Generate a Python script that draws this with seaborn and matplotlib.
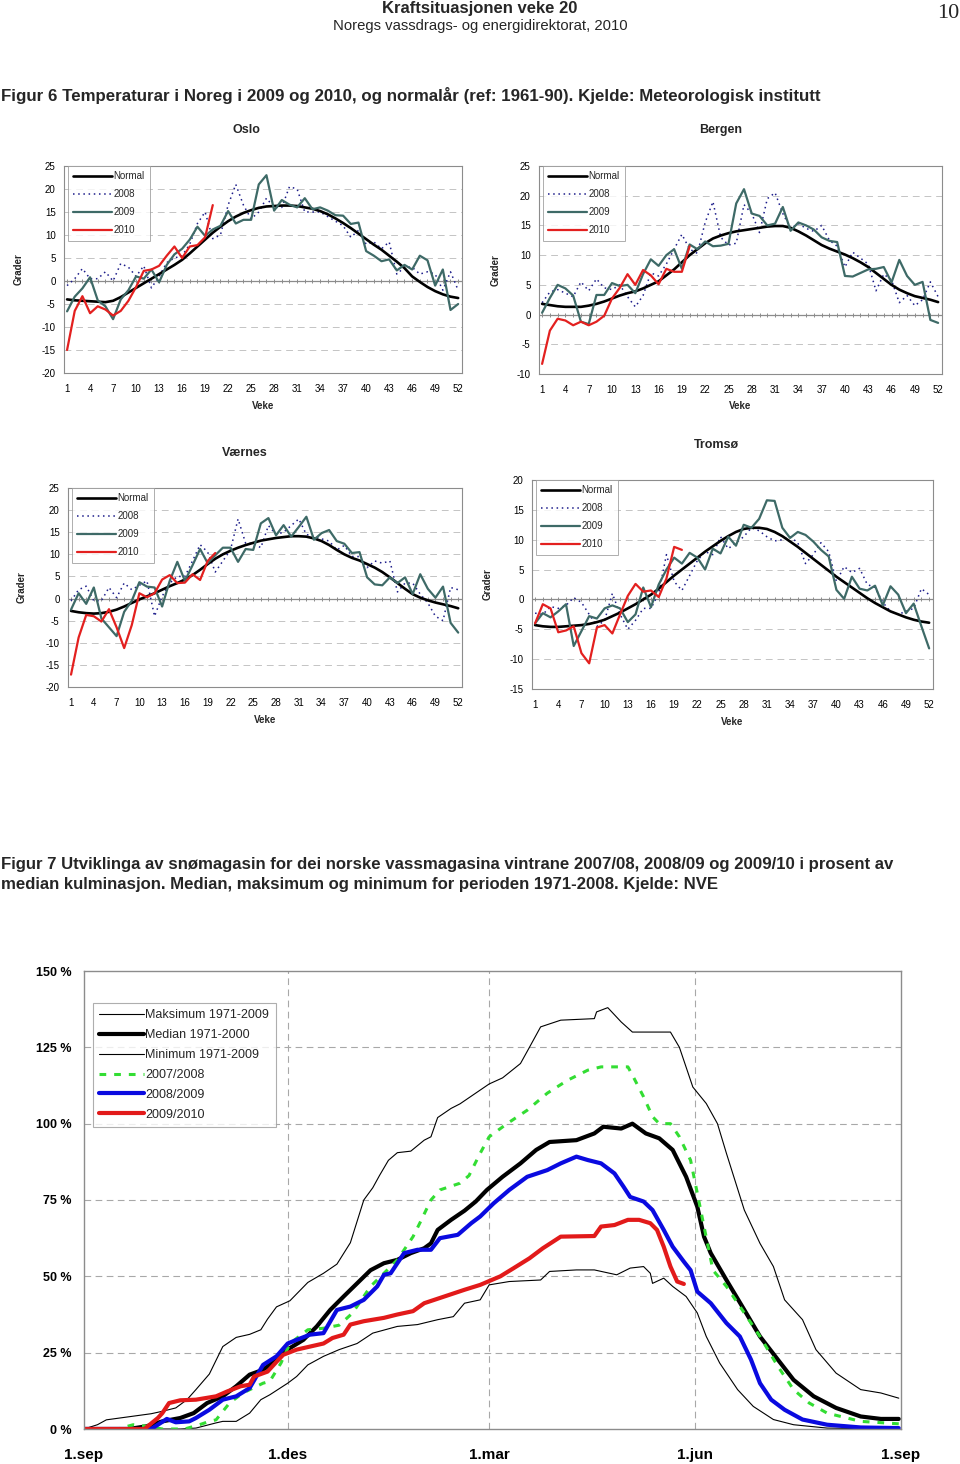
import matplotlib
matplotlib.use("Agg")
import matplotlib.pyplot as plt
import seaborn as sns

sns.set_theme(style="white")
plt.rcParams['font.family'] = ['Liberation Sans', 'DejaVu Sans']

# ---------------- temperature data (weekly, degrees C) ----------------
weeks = list(range(1, 53))
weeks_2010 = list(range(1, 21))
week_ticks = list(range(1, 53, 3))

oslo_normal = [-4.0, -4.2, -4.3, -4.4, -4.5, -4.6, -4.3, -3.5, -2.5, -1.5,
               -0.5, 0.5, 1.5, 2.5, 3.5, 4.6, 6.0, 7.5, 9.0, 10.5,
               11.8, 13.0, 14.0, 14.8, 15.4, 15.9, 16.2, 16.3, 16.4, 16.4,
               16.3, 16.0, 15.7, 15.2, 14.5, 13.6, 12.6, 11.5, 10.3, 9.1,
               7.9, 6.8, 5.5, 4.2, 2.8, 1.0, -0.2, -1.3, -2.2, -2.9,
               -3.4, -3.7]
oslo_2008 = [-1.0, 0.5, 2.7, 0.5, 0.5, 2.0, 0.0, 3.8, 3.0, 1.0,
             3.3, -1.5, 1.0, 4.0, 5.0, 5.5, 8.0, 12.5, 15.0, 9.2,
             10.0, 16.5, 21.0, 16.5, 13.5, 15.0, 18.0, 16.0, 16.0, 20.5,
             20.0, 15.0, 15.0, 15.0, 14.0, 13.0, 12.0, 9.5, 11.0, 8.0,
             8.5, 7.0, 8.5, 1.5, 3.0, 3.0, 1.5, 2.0, 1.5, -2.0,
             2.0, -2.0]
oslo_2009 = [-6.6, -3.4, -1.6, 0.8, -4.2, -5.5, -8.3, -4.0, -2.0, 1.0,
             0.5, 2.5, -0.3, 3.5, 5.8, 7.0, 9.0, 11.8, 9.8, 11.2,
             12.0, 15.2, 12.5, 13.3, 13.3, 21.0, 23.0, 15.3, 17.6, 16.6,
             16.0, 18.0, 15.6, 16.0, 15.3, 14.3, 14.2, 12.4, 12.7, 6.5,
             5.5, 4.3, 4.7, 2.3, 3.5, 2.5, 5.5, 4.5, -1.0, 2.5,
             -6.3, -5.0]
oslo_2010 = [-15.0, -6.5, -3.3, -7.0, -5.5, -6.2, -7.5, -6.5, -4.3, -1.3,
             2.2, 2.5, 3.3, 5.5, 7.5, 5.0, 7.5, 7.8, 9.5, 16.5]

bergen_normal = [1.8, 1.6, 1.4, 1.3, 1.3, 1.3, 1.5, 1.8, 2.2, 2.7,
                 3.2, 3.6, 3.9, 4.4, 5.0, 5.6, 6.6, 7.6, 8.8, 10.0,
                 11.0, 12.0, 12.8, 13.3, 13.7, 14.0, 14.2, 14.4, 14.6, 14.8,
                 14.9, 14.9, 14.6, 14.0, 13.3, 12.5, 11.7, 11.1, 10.6, 10.1,
                 9.5, 8.8, 8.0, 7.0, 6.0, 5.0, 4.2, 3.6, 3.1, 2.8,
                 2.5, 2.1]
bergen_2008 = [2.0, 3.8, 4.2, 3.6, 3.0, 5.5, 4.0, 6.0, 4.5, 4.2,
               5.0, 3.0, 1.3, 3.2, 7.0, 6.5, 8.5, 11.0, 13.5, 11.0,
               10.3, 15.5, 19.0, 13.0, 11.7, 12.0, 18.5, 17.0, 13.8, 19.5,
               20.5, 17.0, 14.5, 15.3, 14.5, 14.0, 15.0, 12.5, 11.5, 8.0,
               10.5, 9.5, 8.5, 4.0, 6.8, 5.8, 2.0, 3.2, 1.5, 2.5,
               5.5, 3.0]
bergen_2009 = [0.3, 2.8, 5.0, 4.4, 3.2, -1.2, -1.6, 3.3, 3.3, 5.3,
               4.8, 5.0, 3.6, 6.8, 9.3, 8.2, 10.0, 11.0, 7.7, 11.8,
               11.0, 12.3, 11.5, 11.6, 11.9, 18.7, 21.1, 17.0, 16.6, 15.0,
               15.3, 18.1, 14.1, 15.5, 15.0, 14.3, 13.0, 12.4, 12.2, 6.5,
               6.4, 7.0, 7.6, 7.7, 8.0, 5.4, 9.2, 6.5, 5.0, 5.5,
               -0.9, -1.4]
bergen_2010 = [-8.3, -2.7, -0.7, -1.0, -1.8, -1.2, -1.8, -1.2, -0.2, 2.7,
               4.5, 6.8, 5.0, 7.5, 6.6, 5.1, 7.7, 7.2, 7.2, 11.5]

vaernes_normal = [-2.8, -3.1, -3.3, -3.4, -3.3, -3.0, -2.5, -1.8, -1.0, -0.2,
                  0.5, 1.2, 2.0, 2.8, 3.5, 4.3, 5.3, 6.5, 7.8, 9.0,
                  10.0, 10.8, 11.5, 12.1, 12.6, 13.1, 13.4, 13.7, 13.9, 14.1,
                  14.1, 14.0, 13.6, 13.0, 12.1, 11.0, 10.0, 9.2, 8.6, 7.8,
                  7.0, 6.0, 4.8, 3.5, 2.2, 1.0, 0.2, -0.4, -0.9, -1.3,
                  -1.7, -2.2]
vaernes_2008 = [-0.5, 2.0, 2.8, -0.5, -0.5, 2.5, 0.2, 3.5, 2.0, 3.0,
                4.0, -4.0, 0.5, 3.5, 5.0, 5.0, 8.5, 12.2, 10.5, 6.0,
                8.5, 11.0, 18.0, 12.5, 12.5, 11.5, 16.5, 14.5, 15.0, 16.5,
                18.0, 14.5, 14.0, 13.5, 13.0, 11.0, 12.0, 9.5, 9.5, 7.0,
                8.5, 8.0, 8.5, 1.5, 3.5, 3.5, 1.0, -1.0, -4.0, -5.0,
                2.5, 2.0]
vaernes_2009 = [-2.5, 1.2, -1.2, 2.5, -4.5, -6.5, -8.5, -3.0, -0.5, 3.7,
                2.7, 2.5, -1.8, 4.0, 8.3, 4.0, 7.5, 11.2, 8.0, 9.8,
                11.5, 11.5, 8.3, 11.2, 11.0, 17.0, 18.2, 14.3, 16.6, 14.0,
                16.2, 18.5, 13.3, 14.8, 15.5, 13.0, 12.4, 10.3, 10.5, 4.8,
                3.2, 3.0, 4.8, 3.5, 4.8, 1.0, 5.5, 2.2, 0.2, 2.7,
                -5.5, -7.7]
vaernes_2010 = [-17.2, -8.8, -3.7, -4.0, -5.2, -2.4, -6.5, -11.2, -6.0, 1.2,
                0.3, 1.2, 4.3, 5.3, 3.5, 3.6, 5.5, 4.2, 8.5, 10.3]

tromso_normal = [-4.3, -4.5, -4.6, -4.6, -4.5, -4.4, -4.3, -4.1, -3.8, -3.4,
                 -2.8, -2.2, -1.5, -0.8, 0.0, 0.8, 1.8, 2.9, 4.0, 5.0,
                 6.0, 7.0, 8.0, 8.9, 9.8, 10.6, 11.3, 11.8, 12.0, 12.0,
                 11.8, 11.3, 10.6, 9.7, 8.8, 7.8, 6.8, 5.8, 4.8, 3.8,
                 2.9, 2.0, 1.1, 0.2, -0.6, -1.3, -2.0, -2.5, -3.0, -3.4,
                 -3.7, -3.9]
tromso_2008 = [-2.3, -2.5, -1.2, -1.5, -1.0, 0.3, -0.5, -2.5, -4.5, -3.5,
               1.0, -2.5, -5.0, -3.5, -1.5, -1.5, 1.0, 7.5, 3.0, 1.5,
               4.0, 6.5, 8.0, 7.5, 10.5, 8.5, 9.5, 10.5, 12.0, 11.5,
               10.5, 9.8, 10.0, 10.5, 9.5, 6.0, 7.5, 9.5, 8.0, 3.0,
               5.5, 4.5, 5.2, 2.5, 2.0, -0.5, -2.0, -2.5, -2.0, -1.5,
               1.8, 0.8]
tromso_2009 = [-4.0, -2.3, -3.0, -2.0, -0.8, -7.8, -5.3, -2.8, -3.2, -1.5,
               -1.0, -1.5, -3.8, -2.5, 2.0, -1.3, 2.5, 5.0, 7.0, 6.0,
               7.8, 7.0, 5.0, 8.5, 7.7, 10.5, 9.0, 12.5, 12.0, 13.5,
               16.6, 16.5, 12.0, 10.3, 11.3, 10.8, 9.7, 8.3, 7.2, 1.6,
               0.1, 3.8, 1.8, 1.5, 2.3, -1.0, 2.2, 0.8, -2.3, -0.7,
               -4.5, -8.2]
tromso_2010 = [-4.0, -0.8, -1.5, -5.5, -5.2, -4.5, -9.0, -10.7, -4.7, -4.3,
               -5.7, -2.5, 0.6, 2.6, 1.3, 1.5, 0.4, 3.5, 8.8, 8.3]

temp_series = ["Normal", "2008", "2009", "2010"]

# ---------------- snow reservoir data (days since 1 Sep, % of median peak) ----
snow_tick_days = [0, 91, 181, 273, 365]
snow_tick_labels = ["1.sep", "1.des", "1.mar", "1.jun", "1.sep"]
pct_ticks = [0, 25, 50, 75, 100, 125, 150]

max_days = [0, 6, 10, 20, 30, 35, 41, 46, 50, 56, 62, 68, 74, 79, 82, 86, 92,
            100, 107, 113, 119, 122, 125, 129, 132, 136, 140, 146, 152, 155,
            158, 164, 168, 173, 181, 187, 195, 199, 204, 213, 228, 229, 234,
            240, 245, 253, 262, 266, 272, 278, 283, 287, 295, 302, 308, 313,
            321, 327, 336, 347, 356, 364]
max_vals = [0, 1.4, 3, 4, 5, 5.8, 6.9, 9.6, 12.9, 18, 27, 30, 31, 32.5, 36, 40,
            42, 48, 51, 54, 61, 68, 75, 79, 83, 88, 90.5, 91, 94.6, 95.7,
            102, 105, 106.5, 109, 113, 115, 119.7, 125, 131.7, 133.9, 134.4,
            136.6, 138, 133.3, 130, 130, 130, 125, 112, 106.6, 100, 90.3,
            71.7, 60.8, 53.2, 42.3, 35.8, 26, 18.3, 12.9, 11.8, 10.1]

med_days = [0, 20, 28, 35, 43, 49, 55, 62, 68, 74, 80, 86, 92, 98, 104, 110,
            116, 122, 128, 134, 140, 146, 152, 155, 158, 164, 170, 175, 180,
            187, 195, 202, 208, 220, 228, 232, 240, 245, 251, 257, 263, 269,
            274, 277, 280, 287, 295, 302, 310, 317, 326, 336, 347, 356, 364]
med_vals = [0, 0, 0.9, 2.5, 3.6, 5.2, 8.5, 10.7, 14, 17.8, 19.4, 22.7, 26.5,
            29.2, 33.6, 39, 43.4, 47.7, 52, 54.3, 55.4, 57.6, 59.2, 60.8,
            65.2, 68.5, 71.5, 74.5, 78.3, 82.6, 87, 91.4, 94, 94.6, 96.8, 99,
            98.4, 100, 96.8, 95.2, 91.4, 82.6, 72.8, 63, 57.6, 48.8, 39, 30.3,
            22.7, 16.1, 10.7, 6.9, 4.1, 3.3, 3.3]

min_days = [0, 43, 50, 59, 62, 68, 74, 79, 83, 91, 95, 100, 107, 114, 122,
            129, 140, 149, 158, 165, 170, 177, 181, 190, 204, 208, 220, 228,
            238, 244, 250, 253, 254, 259, 263, 269, 274, 278, 284, 292, 299,
            308, 317, 332, 364]
min_vals = [0, 0, 0.3, 2, 2.5, 2.5, 5.2, 9.6, 11.2, 15, 17.2, 21, 23.8, 26, 28,
            31.4, 33.6, 34.2, 35.8, 36.8, 41.2, 42.3, 47.2, 48.3, 48.8, 51.6,
            52.1, 52.1, 50.5, 52.7, 53.2, 51, 47.7, 49.4, 46.7, 43.4, 38,
            30.3, 21.6, 12.9, 7.4, 3.1, 1.4, 0.3, 0]

s0708_days = [0, 15, 22, 28, 35, 45, 52, 56, 59, 65, 71, 80, 83, 88, 92, 100,
              107, 114, 120, 128, 134, 140, 147, 150, 155, 159, 168, 172, 177,
              181, 189, 198, 207, 216, 225, 231, 240, 243, 245, 250, 254, 257,
              262, 266, 271, 274, 277, 281, 287, 295, 302, 310, 317, 324, 332,
              347, 364]
s0708_vals = [0, 0, 1.4, 0.9, 0, 0, 1.5, 2.5, 3, 8.5, 11.8, 15, 15.6, 21.6, 28,
              32.5, 33, 34, 38, 46.7, 51, 55.4, 63, 67.4, 75, 78.3, 80.5, 83,
              90.3, 95.7, 100, 104.4, 110, 114.2, 117.5, 118.6, 118.6, 118.6,
              115.9, 108.8, 102.3, 100, 100, 95.7, 88, 77.2, 66.3, 52, 46.7,
              38, 30.3, 20.5, 12.9, 8.5, 5.2, 2.5, 1.7]

s0809_days = [0, 30, 33, 37, 41, 47, 50, 56, 62, 68, 74, 80, 86, 91, 95, 101,
              107, 113, 119, 125, 131, 134, 137, 143, 149, 155, 159, 167, 173,
              177, 183, 190, 198, 207, 213, 220, 225, 231, 237, 241, 244, 250,
              254, 259, 263, 268, 271, 274, 280, 287, 293, 298, 302, 307, 313,
              321, 332, 347, 364]
s0809_vals = [0, 0, 1.4, 3.3, 2.2, 2.5, 3.6, 6.3, 9.6, 10.7, 13.4, 21, 23.8,
              28, 29.2, 30.9, 31.4, 39, 40.1, 42.3, 46.7, 50.5, 51, 57.6, 58.7,
              58.7, 62.5, 63.6, 67.4, 69.6, 73.9, 78.3, 82.6, 84.8, 87, 89.2,
              88.1, 87, 83.7, 79.4, 76, 74.5, 71.7, 65.2, 59.7, 54.8, 52, 45,
              41.2, 34.7, 30.3, 22.7, 15, 9.6, 6.3, 3.1, 1.4, 0.5, 0.3]

s0910_days = [0, 27, 33, 35, 38, 43, 50, 59, 64, 70, 74, 76, 82, 86, 89, 95,
              101, 107, 111, 116, 119, 125, 134, 140, 147, 152, 161, 170, 177,
              186, 192, 199, 205, 213, 228, 231, 237, 243, 248, 253, 256, 259,
              262, 265, 268]
s0910_vals = [0, 0, 3.6, 5.2, 8.5, 9.4, 9.6, 10.7, 12.3, 14, 14.5, 17.2, 18.8,
              22, 24.3, 26, 27, 28, 29.8, 30.9, 34.2, 35.3, 36.4, 37.5, 38.6,
              41.2, 43.4, 45.6, 47.2, 50, 52.7, 55.9, 59.2, 63, 63.2, 66.3,
              66.8, 68.5, 68.5, 67.4, 65.2, 59.7, 53.2, 48.3, 47.5]

snow_labels = ["Maksimum 1971-2009", "Median 1971-2000", "Minimum 1971-2009",
               "2007/2008", "2008/2009", "2009/2010"]

# ---------------- figure ----------------
W, H = 960, 1464
fig = plt.figure(figsize=(W / 100, H / 100), dpi=100)
fig.patch.set_facecolor("white")


def px_axes(x0, y0, x1, y1):
    return fig.add_axes([x0 / W, 1 - y1 / H, (x1 - x0) / W, (y1 - y0) / H])


def ftext(x, y, s, **kw):
    kw.setdefault("ha", "center")
    kw.setdefault("va", "center")
    fig.text(x / W, 1 - y / H, s, **kw)


GRAY = "#8c8c8c"
C_NORMAL = "#000000"
C_2008 = "#1c1c8a"
C_2009 = "#3e6a67"
C_2010 = "#e3201f"


def temp_panel(rect, ylim, normal, y08, y09, y10, title, title_x, title_y,
               veke_y, grader_x):
    ax = px_axes(*rect)
    ax.set_xlim(0.6, 52.5)
    ax.set_ylim(*ylim)
    yt = list(range(ylim[0], ylim[1] + 1, 5))
    for v in yt:
        if v not in (0, ylim[0], ylim[1]):
            ax.axhline(v, color="#c4c4c4", lw=0.7, ls=(0, (7, 5)), zorder=0)
    ax.axhline(0, color=GRAY, lw=0.9, zorder=1)
    ax.plot(weeks, [0] * len(weeks), ls="none", marker="|", ms=3.5,
            mew=0.7, color=GRAY, zorder=1)
    sns.lineplot(x=weeks, y=normal, ax=ax, color=C_NORMAL, lw=1.9,
                 label=temp_series[0], zorder=3)
    sns.lineplot(x=weeks, y=y08, ax=ax, color=C_2008, lw=1.1,
                 linestyle=(0, (1, 2.4)), label=temp_series[1], zorder=2)
    sns.lineplot(x=weeks, y=y09, ax=ax, color=C_2009, lw=1.6,
                 label=temp_series[2], zorder=4)
    sns.lineplot(x=weeks_2010, y=y10, ax=ax, color=C_2010, lw=1.6,
                 label=temp_series[3], zorder=5)
    ax.set_yticks(yt)
    ax.set_yticklabels([str(v) for v in yt])
    ax.set_xticks(week_ticks)
    ax.set_xticklabels([str(w) for w in week_ticks])
    ax.tick_params(axis="both", length=0, labelsize=7, colors="black")
    ax.tick_params(axis="y", pad=6)
    ax.tick_params(axis="x", pad=8)
    for sp in ax.spines.values():
        sp.set_color(GRAY)
        sp.set_linewidth(0.8)
    ax.set_xlabel("")
    ax.set_ylabel("")
    leg = ax.legend(loc="upper left", bbox_to_anchor=(0.01, 1.0),
                    borderaxespad=0, fontsize=7, frameon=True, fancybox=False,
                    handlelength=4.0, handletextpad=0.1, labelspacing=0.82,
                    borderpad=0.55)
    leg.get_frame().set_edgecolor("#9a9a9a")
    leg.get_frame().set_linewidth(0.7)
    cx = (rect[0] + rect[2]) / 2
    cy = (rect[1] + rect[3]) / 2
    ftext(title_x, title_y, title, fontsize=9, fontweight="bold")
    ftext(cx, veke_y, "Veke", fontsize=7, fontweight="bold")
    ftext(grader_x, cy, "Grader", fontsize=7, fontweight="bold", rotation=90)
    return ax


# header
ftext(480, 8, "Kraftsituasjonen veke 20", fontsize=12, fontweight="bold")
ftext(480, 26, "Noregs vassdrags- og energidirektorat, 2010", fontsize=10.7)
ftext(948, 14, "10", fontsize=16, family="Liberation Serif")
ftext(1, 95, "Figur 6 Temperaturar i Noreg i 2009 og 2010, og normalår (ref: 1961-90). "
      "Kjelde: Meteorologisk institutt", ha="left", fontsize=12.2, fontweight="bold")

temp_panel((64, 166, 462, 373), (-20, 25), oslo_normal, oslo_2008, oslo_2009,
           oslo_2010, "Oslo", 246, 130, 406, 19)
temp_panel((539, 166, 942, 374), (-10, 25), bergen_normal, bergen_2008,
           bergen_2009, bergen_2010, "Bergen", 721, 130, 406, 496)
temp_panel((68, 488, 462, 687), (-20, 25), vaernes_normal, vaernes_2008,
           vaernes_2009, vaernes_2010, "Værnes", 245, 453, 720, 22)
temp_panel((532, 480, 933, 689), (-15, 20), tromso_normal, tromso_2008,
           tromso_2009, tromso_2010, "Tromsø", 716, 445, 722, 488)

ftext(1, 865, "Figur 7 Utviklinga av snømagasin for dei norske vassmagasina vintrane "
      "2007/08, 2008/09 og 2009/10 i prosent av", ha="left", fontsize=12.1,
      fontweight="bold")
ftext(1, 885, "median kulminasjon. Median, maksimum og minimum for perioden "
      "1971-2008. Kjelde: NVE", ha="left", fontsize=12.1, fontweight="bold")

# snow chart
ax = px_axes(84, 971, 901, 1429)
ax.set_xlim(0, 365)
ax.set_ylim(0, 150)
for v in pct_ticks[1:-1]:
    ax.axhline(v, color="#a8a8a8", lw=0.8, ls=(0, (6, 4)), zorder=0)
for d in snow_tick_days[1:-1]:
    ax.axvline(d, color="#a8a8a8", lw=0.8, ls=(0, (6, 4)), zorder=0)
sns.lineplot(x=max_days, y=max_vals, ax=ax, color="black", lw=0.8,
             label=snow_labels[0], estimator=None)
sns.lineplot(x=med_days, y=med_vals, ax=ax, color="black", lw=3.0,
             label=snow_labels[1], estimator=None)
sns.lineplot(x=min_days, y=min_vals, ax=ax, color="black", lw=0.8,
             label=snow_labels[2], estimator=None)
sns.lineplot(x=s0708_days, y=s0708_vals, ax=ax, color="#33dd33", lw=2.2,
             linestyle=(0, (2.2, 2.6)), label=snow_labels[3], estimator=None)
sns.lineplot(x=s0809_days, y=s0809_vals, ax=ax, color="#0a0ae0", lw=3.0,
             label=snow_labels[4], estimator=None)
sns.lineplot(x=s0910_days, y=s0910_vals, ax=ax, color="#e21a1a", lw=3.0,
             label=snow_labels[5], estimator=None)
ax.set_xticks(snow_tick_days)
ax.set_xticklabels(snow_tick_labels, fontweight="bold", fontsize=11)
ax.set_yticks(pct_ticks)
ax.set_yticklabels([f"{v} %" for v in pct_ticks], fontweight="bold", fontsize=9)
ax.tick_params(axis="both", length=0, colors="black")
ax.tick_params(axis="y", pad=9)
ax.tick_params(axis="x", pad=14)
for sp in ax.spines.values():
    sp.set_color(GRAY)
    sp.set_linewidth(1.0)
ax.set_xlabel("")
ax.set_ylabel("")
leg = ax.legend(loc="upper left", bbox_to_anchor=(0.011, 0.93), borderaxespad=0,
                fontsize=9, frameon=True, fancybox=False, handlelength=3.6,
                handletextpad=0.1, labelspacing=0.63, borderpad=0.5)
leg.get_frame().set_edgecolor("#9a9a9a")
leg.get_frame().set_linewidth(0.8)

fig.savefig("out.png", dpi=100, facecolor="white")
